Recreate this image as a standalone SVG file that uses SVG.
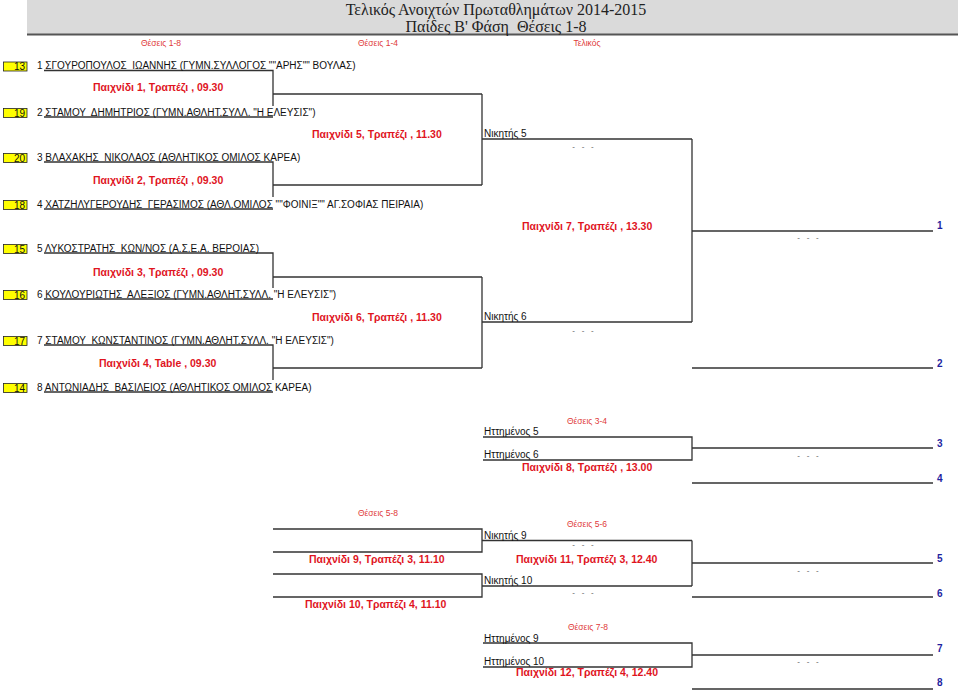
<svg xmlns="http://www.w3.org/2000/svg" width="960" height="690" viewBox="0 0 960 690">
<style>
.nm{font-family:"Liberation Sans",Arial,sans-serif;font-size:10px;fill:#111;white-space:pre}
.lb{font-family:"Liberation Sans",Arial,sans-serif;font-size:10.5px;font-weight:bold;fill:#e0141e;white-space:pre}
.hd{font-family:"Liberation Sans",Arial,sans-serif;font-size:8.5px;fill:#e03a3a;text-anchor:middle}
.dt{font-family:"Liberation Sans",Arial,sans-serif;font-size:8px;fill:#555;text-anchor:middle;white-space:pre}
.pl{font-family:"Liberation Sans",Arial,sans-serif;font-size:10px;font-weight:bold;fill:#1f1f9f}
.sd{font-family:"Liberation Sans",Arial,sans-serif;font-size:10px;fill:#111;text-anchor:end}
.bx{fill:#ffff00;stroke:#222;stroke-width:0.8}
.ln{stroke:#333;stroke-width:1.3;fill:none}
.tt{font-family:"Liberation Serif","Times New Roman",serif;font-size:16px;fill:#222;text-anchor:middle;white-space:pre}
</style>
<rect width="960" height="690" fill="#fff"/>
<g id="header">
<rect x="27" y="0" width="931" height="34" fill="#dadada"/>
<line x1="27" y1="34.5" x2="958" y2="34.5" stroke="#555" stroke-width="2"/>
<text class="tt" x="496" y="15">Τελικός Ανοιχτών Πρωταθλημάτων 2014-2015</text>
<text class="tt" x="496" y="31.5">Παίδες Β' Φάση  Θέσεις 1-8</text>
<text class="hd" x="161" y="46">Θέσεις 1-8</text>
<text class="hd" x="378" y="46">Θέσεις 1-4</text>
<text class="hd" x="587" y="46">Τελικός</text>
</g>
<g id="connectors">
<path class="ln" d="M44 70.5H273V106M273 94H482M44 117H273"/>
<path class="ln" d="M44 162H273V197M273 185H482M44 209H273"/>
<path class="ln" d="M44 253H273V288M273 277H482M44 299H273"/>
<path class="ln" d="M44 345H273V380M273 368H482M44 392H273"/>
<path class="ln" d="M482 94V185M482 139H692"/>
<path class="ln" d="M482 277V368M482 322H692"/>
<path class="ln" d="M692 139V322M692 231H933M692 368H933"/>
<path class="ln" d="M483 437H692V460H483M692 448H933M692 483H933"/>
<path class="ln" d="M273 529H482V552H273M482 540.5H692"/>
<path class="ln" d="M273 574H482V597H273M482 586H692"/>
<path class="ln" d="M692 540.5V586M692 563H933M692 597H933"/>
<path class="ln" d="M483 643H692V667H483M692 655H933M692 689H933"/>
</g>
<g id="p1"><rect class="bx" x="3.5" y="62" width="23.5" height="9"/><text class="sd" x="25" y="70">13</text><text class="nm" x="37" y="69">1 ΣΓΟΥΡΟΠΟΥΛΟΣ  ΙΩΑΝΝΗΣ (ΓΥΜΝ.ΣΥΛΛΟΓΟΣ ""ΑΡΗΣ"" ΒΟΥΛΑΣ)</text></g>
<g id="p2"><rect class="bx" x="3.5" y="108.5" width="23.5" height="9"/><text class="sd" x="25" y="116.5">19</text><text class="nm" x="37" y="115.5">2 ΣΤΑΜΟΥ  ΔΗΜΗΤΡΙΟΣ (ΓΥΜΝ.ΑΘΛΗΤ.ΣΥΛΛ. "Η ΕΛΕΥΣΙΣ")</text></g>
<g id="p3"><rect class="bx" x="3.5" y="153.5" width="23.5" height="9"/><text class="sd" x="25" y="161.5">20</text><text class="nm" x="37" y="160.5">3 ΒΛΑΧΑΚΗΣ  ΝΙΚΟΛΑΟΣ (ΑΘΛΗΤΙΚΟΣ ΟΜΙΛΟΣ ΚΑΡΕΑ)</text></g>
<g id="p4"><rect class="bx" x="3.5" y="200.5" width="23.5" height="9"/><text class="sd" x="25" y="208.5">18</text><text class="nm" x="37" y="207.5">4 ΧΑΤΖΗΛΥΓΕΡΟΥΔΗΣ  ΓΕΡΑΣΙΜΟΣ (ΑΘΛ.ΟΜΙΛΟΣ ""ΦΟΙΝΙΞ"" ΑΓ.ΣΟΦΙΑΣ ΠΕΙΡΑΙΑ)</text></g>
<g id="p5"><rect class="bx" x="3.5" y="244.5" width="23.5" height="9"/><text class="sd" x="25" y="252.5">15</text><text class="nm" x="37" y="251.5">5 ΛΥΚΟΣΤΡΑΤΗΣ  ΚΩΝ/ΝΟΣ (Α.Σ.Ε.Α. ΒΕΡΟΙΑΣ)</text></g>
<g id="p6"><rect class="bx" x="3.5" y="290.5" width="23.5" height="9"/><text class="sd" x="25" y="298.5">16</text><text class="nm" x="37" y="297.5">6 ΚΟΥΛΟΥΡΙΩΤΗΣ  ΑΛΕΞΙΟΣ (ΓΥΜΝ.ΑΘΛΗΤ.ΣΥΛΛ. "Η ΕΛΕΥΣΙΣ")</text></g>
<g id="p7"><rect class="bx" x="3.5" y="336.5" width="23.5" height="9"/><text class="sd" x="25" y="344.5">17</text><text class="nm" x="37" y="343.5">7 ΣΤΑΜΟΥ  ΚΩΝΣΤΑΝΤΙΝΟΣ (ΓΥΜΝ.ΑΘΛΗΤ.ΣΥΛΛ. "Η ΕΛΕΥΣΙΣ")</text></g>
<g id="p8"><rect class="bx" x="3.5" y="383.5" width="23.5" height="9"/><text class="sd" x="25" y="391.5">14</text><text class="nm" x="37" y="390.5">8 ΑΝΤΩΝΙΑΔΗΣ  ΒΑΣΙΛΕΙΟΣ (ΑΘΛΗΤΙΚΟΣ ΟΜΙΛΟΣ ΚΑΡΕΑ)</text></g>
<g id="m1"><text class="lb" x="93" y="91">Παιχνίδι 1, Τραπέζι , 09.30</text></g>
<g id="m2"><text class="lb" x="93" y="184">Παιχνίδι 2, Τραπέζι , 09.30</text></g>
<g id="m3"><text class="lb" x="93" y="276">Παιχνίδι 3, Τραπέζι , 09.30</text></g>
<g id="m4"><text class="lb" x="99" y="367">Παιχνίδι 4, Table , 09.30</text></g>
<g id="m5"><text class="lb" x="312" y="138">Παιχνίδι 5, Τραπέζι , 11.30</text><text class="nm" x="484" y="137">Νικητής 5</text><text class="dt" x="583" y="148.5">-   -   -</text></g>
<g id="m6"><text class="lb" x="312" y="321">Παιχνίδι 6, Τραπέζι , 11.30</text><text class="nm" x="484" y="320">Νικητής 6</text><text class="dt" x="583" y="332.5">-   -   -</text></g>
<g id="m7"><text class="lb" x="522" y="230">Παιχνίδι 7, Τραπέζι , 13.30</text><text class="dt" x="808" y="239.5">-   -   -</text><text class="pl" x="937" y="229">1</text><text class="pl" x="937" y="367">2</text></g>
<g id="m8"><text class="hd" x="587" y="424">Θέσεις 3-4</text><text class="nm" x="484" y="435">Ηττημένος 5</text><text class="nm" x="484" y="458">Ηττημένος 6</text><text class="dt" x="808" y="457.5">-   -   -</text><text class="lb" x="522" y="471">Παιχνίδι 8, Τραπέζι , 13.00</text><text class="pl" x="937" y="447">3</text><text class="pl" x="937" y="482">4</text></g>
<g id="m9"><text class="hd" x="378" y="516">Θέσεις 5-8</text><text class="lb" x="309" y="563">Παιχνίδι 9, Τραπέζι 3, 11.10</text><text class="nm" x="484" y="538.5">Νικητής 9</text><text class="dt" x="583" y="546.5">-   -   -</text></g>
<g id="m10"><text class="lb" x="305" y="608">Παιχνίδι 10, Τραπέζι 4, 11.10</text><text class="nm" x="484" y="584">Νικητής 10</text><text class="dt" x="583" y="594.5">-   -   -</text></g>
<g id="m11"><text class="hd" x="587" y="527">Θέσεις 5-6</text><text class="lb" x="516" y="563">Παιχνίδι 11, Τραπέζι 3, 12.40</text><text class="dt" x="808" y="572.5">-   -   -</text><text class="pl" x="937" y="562">5</text><text class="pl" x="937" y="597">6</text></g>
<g id="m12"><text class="hd" x="588" y="630">Θέσεις 7-8</text><text class="nm" x="484" y="641.5">Ηττημένος 9</text><text class="nm" x="484" y="665">Ηττημένος 10</text><text class="dt" x="808" y="664">-   -   -</text><text class="lb" x="516" y="676">Παιχνίδι 12, Τραπέζι 4, 12.40</text><text class="pl" x="937" y="652">7</text><text class="pl" x="937" y="686">8</text></g>
</svg>
